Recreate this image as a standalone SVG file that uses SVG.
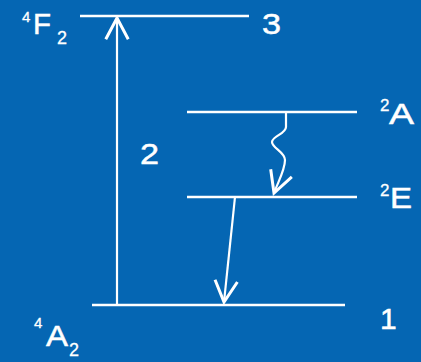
<svg xmlns="http://www.w3.org/2000/svg" width="421" height="362" viewBox="0 0 421 362">
<style>
.lvl{stroke:#fff;stroke-width:2.5;fill:none}
.arr{stroke:#fff;stroke-width:2.2;fill:none;marker-end:url(#ah)}
text{font-family:"Liberation Sans",Arial,sans-serif;fill:#fff;stroke:#fff;stroke-width:0.5}
.big{font-size:30px}
.sup{font-size:15px;stroke-width:0.3}
.sup2{font-size:17px;stroke-width:0.3}
.sub{font-size:18px;stroke-width:0.3}
</style>
<defs>
<marker id="ah" markerUnits="userSpaceOnUse" markerWidth="30" markerHeight="30" refX="0" refY="0" viewBox="-20 -12 24 24" orient="auto" overflow="visible">
<path d="M-17,-9 L0,0 L-17,9" fill="none" stroke="#fff" stroke-width="2.4" stroke-linejoin="miter"/>
</marker>
</defs>
<rect x="0" y="0" width="421" height="362" fill="#0566b3"/>
<g id="level-4F2">
<line class="lvl" x1="80" y1="16" x2="249" y2="16"/>
<text x="22" y="22" class="sup">4</text><text x="33" y="34" class="big" textLength="18" lengthAdjust="spacingAndGlyphs">F</text><text x="57" y="44" class="sub">2</text>
<text x="262" y="34" class="big" textLength="19" lengthAdjust="spacingAndGlyphs">3</text>
</g>
<g id="level-2A">
<line class="lvl" x1="187" y1="112" x2="357" y2="112"/>
<text x="380" y="111" class="sup2">2</text><text x="389" y="124" class="big" textLength="25" lengthAdjust="spacingAndGlyphs">A</text>
</g>
<g id="level-2E">
<line class="lvl" x1="187" y1="197" x2="357" y2="197"/>
<text x="380" y="196" class="sup2">2</text><text x="390" y="208" class="big" textLength="22" lengthAdjust="spacingAndGlyphs">E</text>
</g>
<g id="level-4A2">
<line class="lvl" x1="92" y1="305" x2="345" y2="305"/>
<text x="34" y="328" class="sup">4</text><text x="46" y="346" class="big" textLength="22" lengthAdjust="spacingAndGlyphs">A</text><text x="69" y="356" class="sub">2</text>
<text x="380" y="329" class="big">1</text>
</g>
<g id="connectors">
<path class="arr" d="M117,305 L117,18"/>
<path class="arr" d="M286,113 L286,127 C286,134 272,136 272,142 C272,148 285,152 285,160 C285,170 278,182 274,193"/>
<path class="arr" d="M235,197 L224,302"/>
</g>
<text x="140" y="164" class="big" textLength="19" lengthAdjust="spacingAndGlyphs">2</text>
</svg>
